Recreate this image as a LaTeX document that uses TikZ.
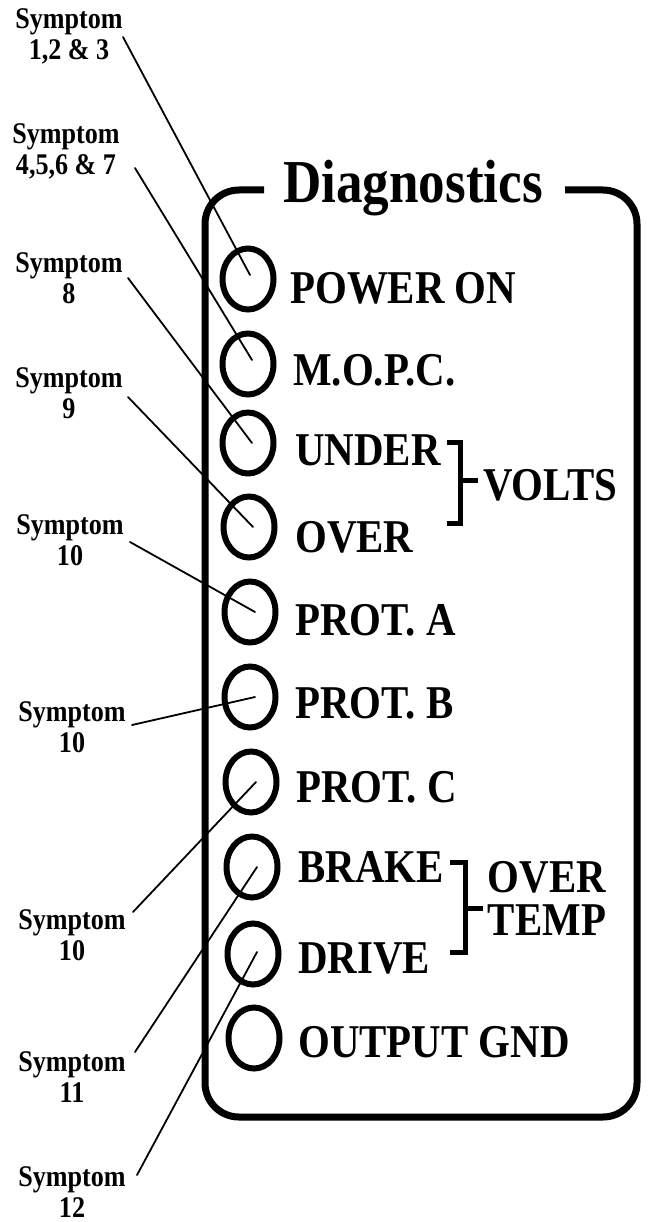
\documentclass[tikz,border=0pt]{standalone}
\usepackage{fontspec}
\setmainfont{Liberation Serif}[FakeStretch=0.87]
\usetikzlibrary{shapes.geometric}

\begin{document}
\begin{tikzpicture}[x=1pt,y=-1pt]
\tikzset{
  lamp/.style={ellipse,draw=black,line width=6pt,minimum width=51pt,minimum height=61pt,inner sep=0pt},
  lamptext/.style={anchor=base west,inner sep=0pt,font=\bfseries\fontsize{47}{43}\selectfont},
  symptom/.style={anchor=base,align=center,inner sep=0pt,font=\bfseries\fontsize{30}{31}\selectfont},
  leader/.style={draw=black,line width=1.8pt,line cap=round},
  frame/.style={draw=black,line width=7pt,rounded corners=34pt},
  bracket/.style={draw=black,line width=5pt}
}
\useasboundingbox (0,0) rectangle (649,1222);
% panel
\draw[frame] (264,190) -- (205,190) -- (205,1117) -- (637,1117) -- (637,190) -- (565,190);
\node[anchor=base west,inner sep=0pt,font=\bfseries\fontsize{61}{61}\selectfont] (title) at (283,203) {Diagnostics};
% lamps
\node[lamp] (led_1) at (248,279) {};
\node[lamp] (led_2) at (248,364) {};
\node[lamp] (led_3) at (248,443) {};
\node[lamp] (led_4) at (249,527) {};
\node[lamp] (led_5) at (250,612) {};
\node[lamp] (led_6) at (250,697) {};
\node[lamp] (led_7) at (251,782) {};
\node[lamp] (led_8) at (252,867) {};
\node[lamp] (led_9) at (253,954) {};
\node[lamp] (led_10) at (254,1038) {};
\node[lamptext] (lbl_1) at (290,303) {POWER ON};
\node[lamptext] (lbl_2) at (293,385) {M.O.P.C.};
\node[lamptext] (lbl_3) at (295,465) {UNDER};
\node[lamptext] (lbl_4) at (295,552) {OVER};
\node[lamptext] (lbl_5) at (295,635) {PROT. A};
\node[lamptext] (lbl_6) at (295,718) {PROT. B};
\node[lamptext] (lbl_7) at (296,802) {PROT. C};
\node[lamptext] (lbl_8) at (298,882) {BRAKE};
\node[lamptext] (lbl_9) at (298,973) {DRIVE};
\node[lamptext] (lbl_10) at (298,1057) {OUTPUT GND};
% groups
\node[lamptext] (volts) at (483,500) {VOLTS};
\node[lamptext,anchor=base,align=center] (temp) at (547,935) {OVER\\TEMP};
\draw[bracket] (447,442) -- (460,442) -- (460,523) -- (447,523);
\draw[bracket] (460,480) -- (478,480);
\draw[bracket] (450,862) -- (465,862) -- (465,952) -- (450,952);
\draw[bracket] (465,908) -- (483,908);
% symptoms (anchored at the second line)
\node[symptom] (sym_1) at (69,60) {Symptom\\1,2 \& 3};
\node[symptom] (sym_2) at (66,175) {Symptom\\4,5,6 \& 7};
\node[symptom] (sym_3) at (69,303) {Symptom\\8};
\node[symptom] (sym_4) at (69,418) {Symptom\\9};
\node[symptom] (sym_5) at (70,565) {Symptom\\10};
\node[symptom] (sym_6) at (72,752) {Symptom\\10};
\node[symptom] (sym_7) at (72,960) {Symptom\\10};
\node[symptom] (sym_8) at (72,1102) {Symptom\\11};
\node[symptom] (sym_9) at (72,1217) {Symptom\\12};
\coordinate (tail_1) at (123,37);
\coordinate (tail_2) at (135,168);
\coordinate (tail_3) at (128,278);
\coordinate (tail_4) at (128,397);
\coordinate (tail_5) at (130,542);
\coordinate (tail_6) at (132,725);
\coordinate (tail_7) at (133,912);
\coordinate (tail_8) at (135,1052);
\coordinate (tail_9) at (137,1175);
\draw[leader] (tail_1) -- ([xshift=2pt,yshift=4pt]led_1.center);
\draw[leader] (tail_2) -- ([xshift=4pt,yshift=4pt]led_2.center);
\draw[leader] (tail_3) -- ([xshift=4pt]led_3.center);
\draw[leader] (tail_4) -- ([xshift=4pt]led_4.center);
\draw[leader] (tail_5) -- ([xshift=5pt]led_5.center);
\draw[leader] (tail_6) -- ([xshift=5pt]led_6.center);
\draw[leader] (tail_7) -- ([xshift=5pt]led_7.center);
\draw[leader] (tail_8) -- ([xshift=5pt]led_8.center);
\draw[leader] (tail_9) -- ([xshift=4pt,yshift=2pt]led_9.center);
\end{tikzpicture}
\end{document}
